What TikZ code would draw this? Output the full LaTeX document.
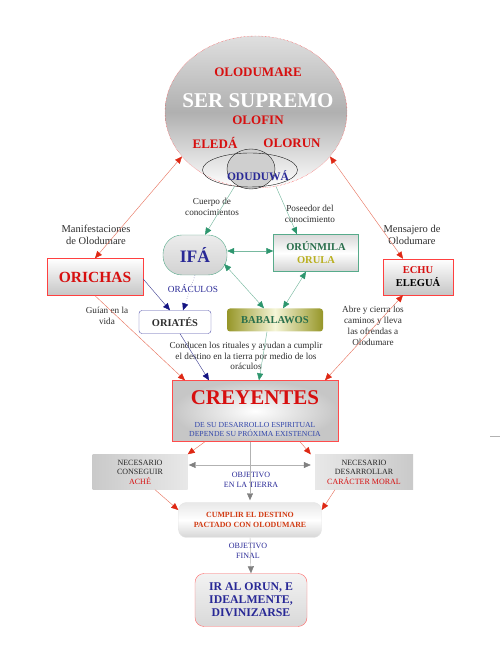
\documentclass[tikz,border=0pt]{standalone}
\usepackage{fontspec}
\setmainfont{Liberation Serif}
\usetikzlibrary{arrows.meta,shapes.geometric}
\newcommand{\myfs}[2]{\fontsize{#1}{#2}\selectfont}
\definecolor{cred}{RGB}{215,15,15}
\definecolor{lred}{RGB}{232,120,100}
\definecolor{ared}{RGB}{222,40,20}
\definecolor{cteal}{RGB}{45,150,110}
\definecolor{lteal}{RGB}{120,185,160}
\definecolor{cnavy}{RGB}{20,20,130}
\definecolor{lnavy}{RGB}{70,70,150}
\definecolor{cblue}{RGB}{40,40,150}
\definecolor{sblue}{RGB}{50,70,170}
\definecolor{cgreen}{RGB}{40,110,75}
\definecolor{colive}{RGB}{185,175,30}
\definecolor{ctext}{RGB}{45,45,45}
\definecolor{corange}{RGB}{210,60,20}
\definecolor{bolive}{RGB}{150,150,40}
\definecolor{bolivel}{RGB}{245,245,215}
\tikzset{
  redarr/.style={draw=lred, line width=0.45pt, -{Triangle[length=7pt,width=6pt,color=ared]}},
  redboth/.style={draw=lred, line width=0.45pt, {Triangle[length=7pt,width=6pt,color=ared]}-{Triangle[length=7pt,width=6pt,color=ared]}},
  tealarr/.style={draw=lteal, line width=0.45pt, -{Triangle[length=7pt,width=6pt,color=cteal]}},
  tealboth/.style={draw=lteal, line width=0.45pt, {Triangle[length=7pt,width=6pt,color=cteal]}-{Triangle[length=7pt,width=6pt,color=cteal]}},
  navyarr/.style={draw=lnavy, line width=0.45pt, -{Triangle[length=7pt,width=6pt,color=cnavy]}},
  navydot/.style={draw=lnavy, line width=0.45pt, dotted, -{Triangle[length=7pt,width=6pt,color=cnavy]}},
  greyarr/.style={draw=gray!60, line width=0.45pt, -{Triangle[length=7pt,width=6pt,color=gray]}},
  greyboth/.style={draw=gray!60, line width=0.45pt, {Triangle[length=7pt,width=6pt,color=gray]}-{Triangle[length=7pt,width=6pt,color=gray]}},
  lbl/.style={text=ctext, align=center, inner sep=0, font=\myfs{9.2}{10.8}},
  lblbig/.style={text=ctext, align=center, inner sep=0, font=\myfs{10.5}{12.5}},
  boxn/.style={inner sep=0, align=center},
}
\begin{document}
\begin{tikzpicture}[x=1pt,y=1pt]
\useasboundingbox (0,0) rectangle (500,658);

% Supreme being ellipse
\node[ellipse, boxn, minimum width=182pt, minimum height=152pt, draw=red!80, densely dotted,
      top color=gray!25, bottom color=white, middle color=gray!62] (ser) at (256,546) {};
\node[boxn, text=cred, font=\bfseries\myfs{13}{15}] (olo) at (258,586) {OLODUMARE};
\node[boxn, text=white, font=\bfseries\myfs{21}{24}] (sup) at (258,557) {SER SUPREMO};
\node[boxn, text=cred, font=\bfseries\myfs{13}{15}] (olof) at (258,538) {OLOFIN};
\node[boxn, text=cred, font=\bfseries\myfs{13}{15}] (eled) at (215,515) {ELEDÁ};
\node[boxn, text=cred, font=\bfseries\myfs{13}{15}] (olor) at (292,515) {OLORUN};
\node[ellipse, boxn, minimum width=48pt, minimum height=40pt, draw=gray!20!black, fill=gray!38] (oduS) at (251,489) {};
\node[ellipse, boxn, minimum width=95pt, minimum height=34pt, draw=gray!20!black] (oduW) at (250,488) {};
\node[boxn, text=cblue, font=\bfseries\myfs{11.5}{13}] (odu) at (258,482) {ODUDUWÁ};

% Main boxes
\node[boxn, rounded corners=19pt, minimum width=64pt, minimum height=40pt, draw=cteal!80, top color=gray!15, bottom color=gray!35,
      text=cblue, font=\bfseries\myfs{17.5}{20}] (ifa) at (195,403) {IFÁ};
\node[boxn, minimum width=85pt, minimum height=37pt, draw=cteal!80, top color=gray!30, bottom color=gray!35, middle color=white,
      font=\bfseries\myfs{10.5}{13}] (orun) at (316,405) {\textcolor{cgreen}{ORÚNMILA}\\\textcolor{colive}{ORULA}};
\node[boxn, minimum width=96pt, minimum height=37pt, draw=red!75, top color=white, bottom color=gray!45,
      text=cred, font=\bfseries\myfs{15.5}{18}] (orichas) at (95,381) {ORICHAS};
\node[boxn, minimum width=70pt, minimum height=36pt, draw=red!75, top color=white, bottom color=gray!45,
      font=\bfseries\myfs{10.5}{13}] (echu) at (418,381) {\textcolor{cred}{ECHU}\\ELEGUÁ};
\node[boxn, rounded corners=3pt, minimum width=72pt, minimum height=23pt, draw=cblue!80, fill=white,
      text=ctext, font=\bfseries\myfs{10.4}{12}] (oriates) at (175,336) {ORIATÉS};
\node[boxn, rounded corners=3pt, minimum width=96pt, minimum height=23pt, left color=bolive, right color=bolive, middle color=bolivel,
      text=cgreen, font=\bfseries\myfs{10.6}{12}] (baba) at (275,338) {BABALAWOS};
\node[boxn, minimum width=166pt, minimum height=61pt, draw=red!70, inner color=white, outer color=gray!45] (crey) at (255,247) {};
\node[boxn, text=cred, font=\bfseries\myfs{21}{24}] (creyt) at (255,260) {CREYENTES};
\node[boxn, text=sblue, font=\myfs{7.7}{9}] (creys) at (255,229) {DE SU DESARROLLO ESPIRITUAL\\DEPENDE SU PRÓXIMA EXISTENCIA};
\node[boxn, minimum width=95pt, minimum height=35pt, left color=gray!42, right color=gray!18,
      text=gray!30!black, font=\myfs{8}{9.6}] (ache) at (140,186) {NECESARIO\\CONSEGUIR\\\textcolor{cred}{ACHÉ}};
\node[boxn, minimum width=98pt, minimum height=35pt, left color=gray!18, right color=gray!42,
      text=gray!30!black, font=\myfs{8}{9.6}] (carac) at (364,186) {NECESARIO\\DESARROLLAR\\\textcolor{cred}{CARÁCTER MORAL}};
\node[boxn, rounded corners=8pt, minimum width=143pt, minimum height=35pt, draw=gray!20, top color=gray!18, bottom color=gray!32, middle color=white,
      text=corange, font=\bfseries\myfs{7.9}{10}] (cumplir) at (250,138) {CUMPLIR EL DESTINO\\PACTADO CON OLODUMARE};
\node[boxn, rounded corners=9pt, minimum width=112pt, minimum height=53pt, draw=red!60, top color=gray!10, bottom color=gray!30,
      text=cblue, font=\bfseries\myfs{11.8}{13}] (ir) at (251,58) {IR AL ORUN, E\\IDEALMENTE,\\DIVINIZARSE};

% Labels
\node[lblbig] (lman) at (96,423) {Manifestaciones\\de Olodumare};
\node[lblbig] (lmen) at (412,423) {Mensajero de\\Olodumare};
\node[lbl] (lcue) at (212,451) {Cuerpo de\\conocimientos};
\node[lbl] (lpos) at (310,444) {Poseedor del\\conocimiento};
\node[boxn, text=cblue, font=\myfs{9.3}{11}] (lora) at (193,369) {ORÁCULOS};
\node[lbl] (lgui) at (107,342) {Guían en la\\vida};
\node[lbl] (labr) at (373,332) {Abre y cierra los\\caminos y lleva\\las ofrendas a\\Olodumare};
\node[lbl] (lcon) at (246,302) {Conducen los rituales y ayudan a cumplir\\el destino en la tierra por medio de los\\oráculos};
\node[boxn, text=cblue, font=\myfs{8}{9.4}] (lobj) at (251,178) {OBJETIVO\\EN LA TIERRA};
\node[boxn, text=cblue, font=\myfs{8}{9.4}] (lfin) at (248,107) {OBJETIVO\\FINAL};

% Connectors
\draw[redboth] (ser.211) -- (orichas.north);
\draw[redboth] (ser.329) -- ([xshift=-15pt]echu.north);
\draw[tealarr] (ser.254) -- ([xshift=10pt]ifa.north);
\draw[tealarr] (ser.285) -- ([xshift=-19pt]orun.north);
\draw[tealboth] ([yshift=4pt]ifa.east) -- ([yshift=2pt]orun.west);
\draw[tealboth] ([shift={(-3pt,-9pt)}]ifa.east) -- ([xshift=-11pt]baba.north);
\draw[tealboth] ([xshift=-10pt]orun.south) -- ([xshift=8pt]baba.north);
\draw[navydot] (ifa.south) -- ([xshift=8pt]oriates.north);
\draw[navyarr] ([yshift=-2pt]orichas.east) -- ([xshift=-5pt]oriates.north);
\draw[redarr] (orichas.south) -- ([xshift=-70pt]crey.north);
\draw[navyarr] ([xshift=5pt]oriates.south) -- ([xshift=-46pt]crey.north);
\draw[tealarr] ([xshift=-8pt]baba.south) -- ([xshift=4pt]crey.north);
\draw[redboth] ([xshift=-15pt]echu.south) -- ([xshift=70pt]crey.north);
\draw[redarr] ([xshift=-50pt]crey.south) -- (ache.north east);
\draw[redarr] ([xshift=45pt]crey.south) -- ([xshift=-4pt]carac.north west);
\draw[greyarr] ([xshift=-5pt]crey.south) -- ([yshift=2pt]cumplir.north);
\draw[greyboth] ([shift={(1pt,7pt)}]ache.east) -- ([shift={(-4pt,7pt)}]carac.west);
\draw[redarr] ([xshift=15pt]ache.south) -- ([yshift=10pt]cumplir.west);
\draw[redarr] ([xshift=-29pt]carac.south) -- ([yshift=10pt]cumplir.east);
\draw[greyarr] (cumplir.south) -- (ir.north);

% stray mark at right edge
\coordinate (sa) at (490,222);
\coordinate (sb) at (500,222);
\draw[gray!60, line width=0.8pt] (sa) -- (sb);
\end{tikzpicture}
\end{document}
